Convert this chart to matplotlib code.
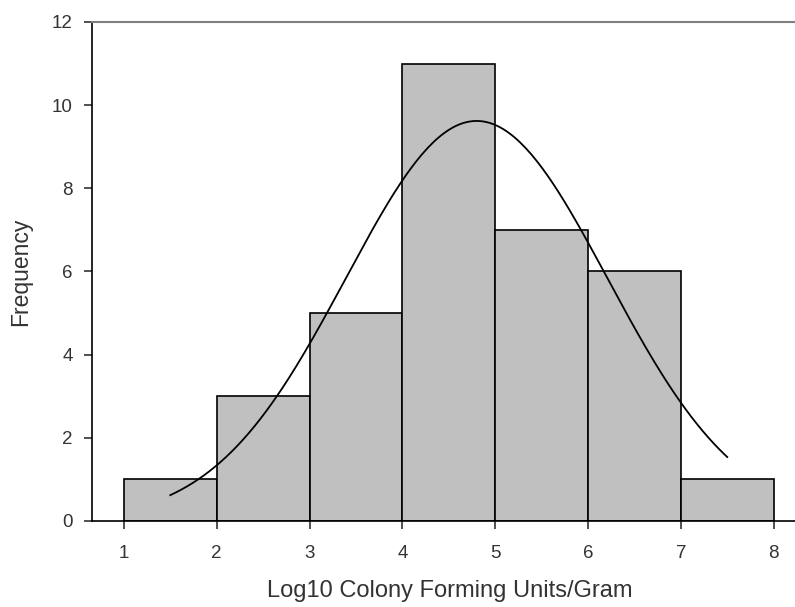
import numpy as np
import matplotlib
matplotlib.use("Agg")
import matplotlib.pyplot as plt

plt.rcParams['font.family'] = ['Liberation Sans', 'DejaVu Sans']

# bins and counts
bin_edges = [1, 2, 3, 4, 5, 6, 7, 8]
counts = [1, 3, 5, 11, 7, 6, 1]

# fitted normal curve parameters
fit_mean = 4.8
fit_sd = 1.41
fit_n = 34
fit_range = (1.5, 7.5)

fig = plt.figure(figsize=(7.95, 6.07), dpi=100)
ax = fig.add_axes([0.1157, 0.1417, 0.8843, 0.8221])

widths = np.diff(bin_edges)
ax.bar(bin_edges[:-1], counts, width=widths, align='edge',
       color='#c0c0c0', edgecolor='black', linewidth=1.2)

xs = np.linspace(fit_range[0], fit_range[1], 200)
ys = fit_n * 1.0 / (fit_sd * np.sqrt(2 * np.pi)) * np.exp(-0.5 * ((xs - fit_mean) / fit_sd) ** 2)
ax.plot(xs, ys, color='black', linewidth=1.3)

ax.set_xlim(0.656, 8.23)
ax.set_ylim(0, 12)
ax.set_xticks(range(1, 9))
ax.set_yticks(range(0, 13, 2))

ax.spines['right'].set_visible(False)
ax.spines['top'].set_color('#808080')
ax.spines['top'].set_linewidth(1.5)
ax.spines['left'].set_linewidth(1.2)
ax.spines['bottom'].set_linewidth(1.2)
ax.tick_params(direction='out', length=6, width=1.2, labelsize=13.5, colors='#333333')
ax.tick_params(axis='x', pad=11)
ax.tick_params(axis='y', pad=8)

ax.set_xlabel("Log10 Colony Forming Units/Gram", fontsize=17, color='#333333')
ax.xaxis.set_label_coords(0.509, -0.118)
ax.set_ylabel("Frequency", fontsize=16.5, color='#333333', labelpad=14)

fig.savefig("out.png", dpi=100)
